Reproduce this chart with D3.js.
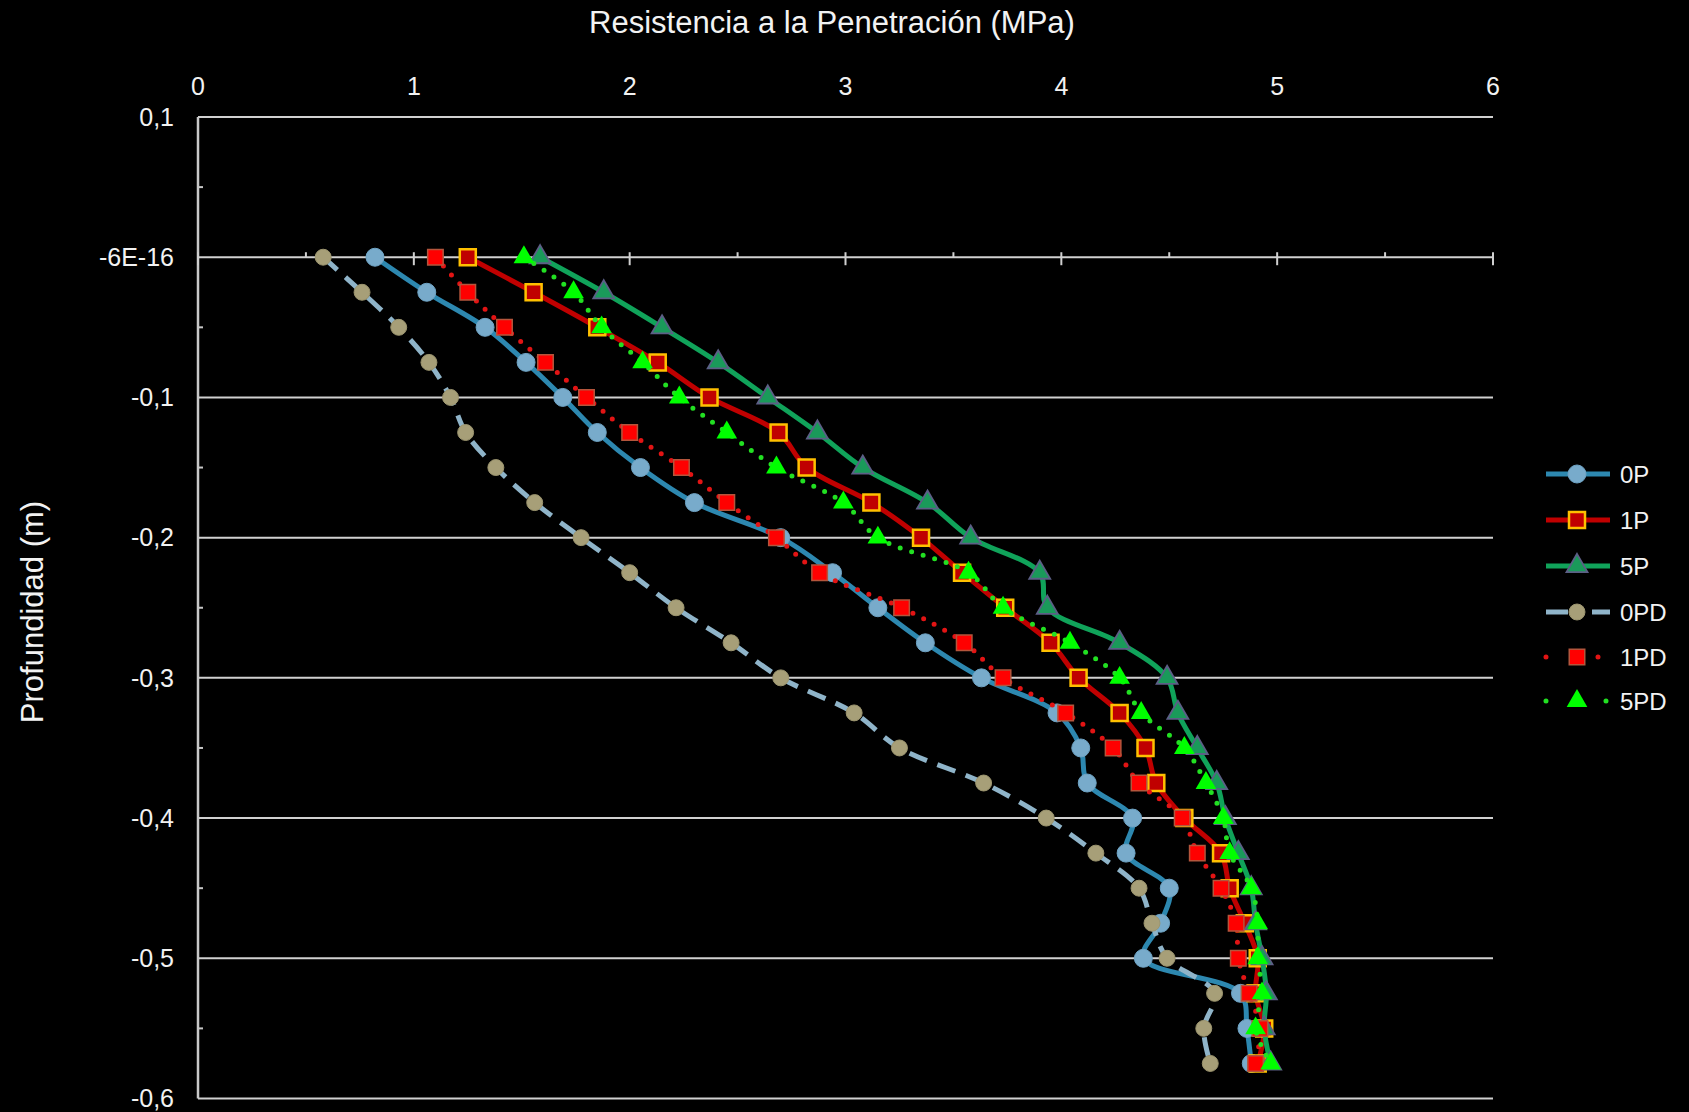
<!DOCTYPE html>
<html>
<head>
<meta charset="utf-8">
<script src="https://cdn.jsdelivr.net/npm/d3@7"></script>
<style>
  html, body { margin: 0; padding: 0; background: #000; }
  svg { display: block; }
  text { font-family: "Liberation Sans", Arial, sans-serif; fill: #f2f2f2; }
</style>
</head>
<body>
<svg id="chart" width="1689" height="1112"></svg>
<script>
// Depth (m) of each reading
const depth = [0, -0.025, -0.05, -0.075, -0.1, -0.125, -0.15, -0.175, -0.2, -0.225, -0.25, -0.275,
               -0.3, -0.325, -0.35, -0.375, -0.4, -0.425, -0.45, -0.475, -0.5, -0.525, -0.55, -0.575];

// Penetration resistance (MPa) for each treatment
const r0P  = [0.82, 1.06, 1.33, 1.52, 1.69, 1.85, 2.05, 2.30, 2.70, 2.94, 3.15, 3.37,
              3.63, 3.98, 4.09, 4.12, 4.33, 4.30, 4.50, 4.46, 4.38, 4.83, 4.86, 4.88];
const r1P  = [1.25, 1.555, 1.85, 2.13, 2.37, 2.69, 2.82, 3.12, 3.35, 3.54, 3.74, 3.95,
              4.08, 4.27, 4.39, 4.44, 4.57, 4.74, 4.78, 4.85, 4.91, 4.90, 4.94, 4.91];
const r5P  = [1.585, 1.88, 2.15, 2.41, 2.64, 2.87, 3.08, 3.38, 3.58, 3.90, 3.935, 4.27,
              4.49, 4.54, 4.63, 4.72, 4.76, 4.82, 4.88, 4.90, 4.93, 4.95, 4.94, 4.97];
const r0PD = [0.58, 0.76, 0.93, 1.07, 1.17, 1.24, 1.38, 1.56, 1.775, 2.00, 2.215, 2.47,
              2.70, 3.04, 3.25, 3.64, 3.93, 4.16, 4.36, 4.42, 4.49, 4.71, 4.66, 4.69];
const r1PD = [1.10, 1.25, 1.42, 1.61, 1.80, 2.00, 2.24, 2.45, 2.68, 2.88, 3.26, 3.55,
              3.73, 4.02, 4.24, 4.36, 4.56, 4.63, 4.74, 4.81, 4.82, 4.87, 4.92, 4.90];
const r5PD = [1.51, 1.74, 1.87, 2.06, 2.23, 2.45, 2.68, 2.99, 3.15, 3.57, 3.73, 4.04,
              4.27, 4.37, 4.57, 4.67, 4.75, 4.78, 4.88, 4.91, 4.91, 4.93, 4.90, 4.97];

const seriesNames = ["0P", "1P", "5P", "0PD", "1PD", "5PD"];
const seriesValues = [r0P, r1P, r5P, r0PD, r1PD, r5PD];

// Axis ticks and their printed labels
const xTicks = [0, 1, 2, 3, 4, 5, 6];
const xMinorTicks = [0.5, 1.5, 2.5, 3.5, 4.5, 5.5];
const yTicks = [0.1, 0, -0.1, -0.2, -0.3, -0.4, -0.5, -0.6];
const yTickLabels = ["0,1", "-6E-16", "-0,1", "-0,2", "-0,3", "-0,4", "-0,5", "-0,6"];
const yMinorTicks = [0.05, -0.05, -0.15, -0.25, -0.35, -0.45, -0.55];

const xTitle = "Resistencia a la Penetración (MPa)";
const yTitle = "Profundidad (m)";

// Visual style per series
const styles = {
  "0P":  { line: "#2d88b0", width: 5, dash: null, shape: d3.symbolCircle, size: 254, fill: "#78abcb", stroke: "#6ea3c4", sw: 1 },
  "1P":  { line: "#c00000", width: 5, dash: null, shape: d3.symbolSquare, size: 256, fill: "#c00000", stroke: "#ffc000", sw: 2.5 },
  "5P":  { line: "#10a35a", width: 5, dash: null, shape: d3.symbolTriangle, size: 190, fill: "#1a9a5a", stroke: "#5c5f86", sw: 1.8 },
  "0PD": { line: "#8fb4c9", width: 5, dash: "19,11", shape: d3.symbolCircle, size: 200, fill: "#a79f78", stroke: "#9c956f", sw: 1 },
  "1PD": { line: "#e21414", width: 5, dash: "0,12", cap: "round", shape: d3.symbolSquare, size: 240, fill: "#ff0000", stroke: "#b4553c", sw: 1.5 },
  "5PD": { line: "#22e022", width: 5, dash: "0,12", cap: "round", shape: d3.symbolTriangle, size: 185, fill: "#00ff00", stroke: "none", sw: 0 }
};

const svg = d3.select("#chart");
const x = d3.scaleLinear().domain([0, 6]).range([198, 1493]);
const y = d3.scaleLinear().domain([0.1, -0.6]).range([117, 1098.5]);

// Horizontal gridlines
svg.append("g").selectAll("line").data(yTicks).join("line")
  .attr("x1", x(0)).attr("x2", x(6))
  .attr("y1", d => y(d)).attr("y2", d => y(d))
  .attr("stroke", "#d0d0d0").attr("stroke-width", 2);

// Vertical axis with minor ticks
svg.append("line")
  .attr("x1", x(0)).attr("x2", x(0)).attr("y1", y(0.1)).attr("y2", y(-0.6))
  .attr("stroke", "#c8c8c8").attr("stroke-width", 2.5);
svg.append("g").selectAll("line").data(yMinorTicks).join("line")
  .attr("x1", x(0)).attr("x2", x(0) + 5)
  .attr("y1", d => y(d)).attr("y2", d => y(d))
  .attr("stroke", "#c8c8c8").attr("stroke-width", 2);

// Horizontal axis crossing at depth 0
const y0 = y(0);
svg.append("g").selectAll("line").data(xTicks).join("line")
  .attr("x1", d => x(d)).attr("x2", d => x(d))
  .attr("y1", y0 - 5).attr("y2", y0 + 8)
  .attr("stroke", "#d0d0d0").attr("stroke-width", 2);
svg.append("g").selectAll("line").data(xMinorTicks).join("line")
  .attr("x1", d => x(d)).attr("x2", d => x(d))
  .attr("y1", y0 - 5).attr("y2", y0)
  .attr("stroke", "#d0d0d0").attr("stroke-width", 2);

// Tick labels
svg.append("g").selectAll("text").data(xTicks).join("text")
  .attr("x", d => x(d)).attr("y", 95)
  .attr("text-anchor", "middle").attr("font-size", 25)
  .text(d => d);
svg.append("g").selectAll("text").data(yTicks).join("text")
  .attr("x", 174).attr("y", d => y(d)).attr("dy", "0.35em")
  .attr("text-anchor", "end").attr("font-size", 25)
  .text((d, i) => yTickLabels[i]);

// Axis titles
svg.append("text")
  .attr("x", 832).attr("y", 33)
  .attr("text-anchor", "middle").attr("font-size", 31)
  .text(xTitle);
svg.append("text")
  .attr("transform", "translate(43,612) rotate(-90)")
  .attr("text-anchor", "middle").attr("font-size", 31)
  .text(yTitle);

// Series
const line = d3.line()
  .x(d => x(d.v)).y(d => y(d.d))
  .curve(d3.curveCatmullRom.alpha(0.5));

seriesNames.forEach((name, si) => {
  const st = styles[name];
  const pts = seriesValues[si].map((v, i) => ({ v, d: depth[i] }));
  const g = svg.append("g").attr("class", "series-" + name);
  g.append("path")
    .datum(pts)
    .attr("d", line)
    .attr("fill", "none")
    .attr("stroke", st.line)
    .attr("stroke-width", st.width)
    .attr("stroke-linecap", st.cap || "butt")
    .attr("stroke-linejoin", "round")
    .attr("stroke-dasharray", st.dash);
  g.selectAll("path.m").data(pts).join("path")
    .attr("class", "m")
    .attr("transform", d => `translate(${x(d.v)},${y(d.d)})`)
    .attr("d", d3.symbol().type(st.shape).size(st.size))
    .attr("fill", st.fill)
    .attr("stroke", st.stroke)
    .attr("stroke-width", st.sw);
});

// Legend
const legendRows = [474, 520, 566, 612, 657, 701];
const legendDash = { "0PD": "22,24", "1PD": "0,52", "5PD": "0,60" };
const lg = svg.append("g");
seriesNames.forEach((name, i) => {
  const st = styles[name];
  const ly = legendRows[i];
  lg.append("line")
    .attr("x1", 1546).attr("x2", 1610).attr("y1", ly).attr("y2", ly)
    .attr("stroke", st.line).attr("stroke-width", st.width)
    .attr("stroke-linecap", st.cap || "butt")
    .attr("stroke-dasharray", legendDash[name] || null);
  lg.append("path")
    .attr("transform", `translate(1577,${ly})`)
    .attr("d", d3.symbol().type(st.shape).size(st.size))
    .attr("fill", st.fill).attr("stroke", st.stroke).attr("stroke-width", st.sw);
  lg.append("text")
    .attr("x", 1620).attr("y", ly).attr("dy", "0.36em")
    .attr("font-size", 24)
    .text(name);
});
</script>
</body>
</html>
